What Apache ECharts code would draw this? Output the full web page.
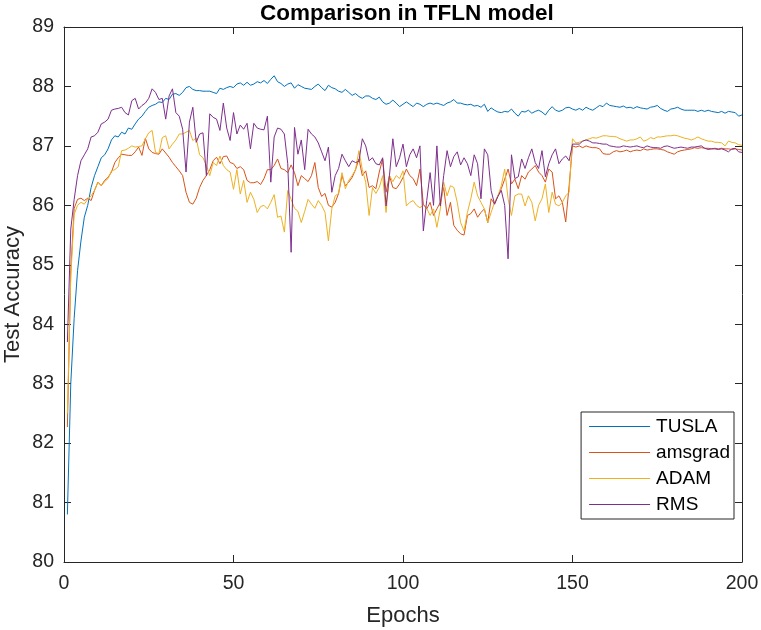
<!DOCTYPE html>
<html>
<head>
<meta charset="utf-8">
<script src="https://cdn.jsdelivr.net/npm/echarts@6/dist/echarts.min.js"></script>
<style>
html,body{margin:0;padding:0;background:#fff;}
#chart{width:761px;height:630px;}
</style>
</head>
<body>
<div id="chart"></div>
<script>
const seriesNames = ['TUSLA', 'amsgrad', 'ADAM', 'RMS'];
const xTicks = [0, 50, 100, 150, 200];
const yTicks = [80, 81, 82, 83, 84, 85, 86, 87, 88, 89];

const tusla = [
80.8,83.0,84.1,84.9,85.4,85.8,86.0,86.3,86.5,86.65,
86.8,86.85,86.95,87.1,87.17,87.15,87.23,87.2,87.3,87.28,
87.37,87.45,87.5,87.58,87.65,87.68,87.7,87.74,87.73,87.8,
87.78,87.87,87.88,87.85,87.9,87.98,88.0,87.95,87.93,87.93,
87.92,87.92,87.92,87.9,87.88,87.97,87.95,87.98,88.0,87.98,
88.04,88.06,88.02,88.07,88.02,88.04,88.08,88.06,88.1,88.05,
88.12,88.18,88.08,88.05,88.0,88.04,88.06,87.97,88.03,88.0,
87.97,87.96,87.95,88.0,88.04,87.98,87.93,88.02,87.98,87.96,
87.92,87.9,87.95,87.9,87.85,87.88,87.83,87.8,87.84,87.84,
87.8,87.78,87.82,87.74,87.7,87.72,87.77,87.72,87.66,87.7,
87.74,87.7,87.66,87.72,87.7,87.66,87.7,87.72,87.7,87.72,
87.7,87.68,87.72,87.74,87.78,87.72,87.72,87.7,87.69,87.7,
87.67,87.68,87.65,87.7,87.58,87.64,87.6,87.57,87.56,87.58,
87.57,87.62,87.55,87.5,87.58,87.57,87.6,87.55,87.58,87.6,
87.57,87.52,87.6,87.66,87.6,87.58,87.6,87.64,87.65,87.62,
87.6,87.63,87.6,87.65,87.62,87.6,87.64,87.68,87.66,87.72,
87.68,87.67,87.66,87.65,87.67,87.64,87.65,87.63,87.66,87.64,
87.63,87.62,87.65,87.66,87.68,87.63,87.6,87.58,87.62,87.63,
87.65,87.62,87.6,87.6,87.6,87.6,87.58,87.6,87.58,87.6,
87.58,87.57,87.56,87.58,87.55,87.58,87.57,87.56,87.5,87.52
];

const amsgrad = [
82.27,84.9,85.95,86.1,86.12,86.08,86.12,86.08,86.25,86.39,
86.33,86.42,86.47,86.56,86.72,86.8,86.86,86.85,86.84,86.84,
86.9,86.98,86.84,87.13,86.95,86.89,86.87,86.86,86.95,86.88,
86.81,86.72,86.65,86.58,86.5,86.22,86.05,86.02,86.12,86.3,
86.42,86.5,86.6,86.75,86.81,86.7,86.82,86.83,86.72,86.7,
86.62,86.65,86.6,86.42,86.38,86.38,86.4,86.35,86.45,86.6,
86.6,86.67,86.78,86.62,86.6,86.55,86.68,86.55,86.33,86.5,
86.45,86.4,86.5,86.72,86.3,86.15,86.2,86.0,85.97,86.05,
86.2,86.5,86.33,86.39,86.47,86.6,86.78,86.5,86.58,86.3,
86.33,86.28,86.56,86.78,86.22,86.5,86.3,86.28,86.36,86.47,
86.61,86.5,86.45,86.33,86.61,86.02,85.94,86.05,85.83,85.94,
86.05,86.3,85.83,86.05,85.66,85.58,85.52,85.5,85.83,85.86,
85.94,85.8,85.88,85.94,85.71,86.11,86.02,86.16,86.28,86.44,
86.61,86.36,86.44,86.28,86.5,86.44,86.56,86.61,86.67,86.56,
86.5,86.39,86.61,86.56,86.11,86.16,86.05,85.72,86.33,87.0,
86.98,87.0,86.97,87.0,86.98,86.97,86.97,86.95,86.87,86.86,
86.86,86.9,86.92,86.9,86.91,86.93,86.9,86.92,86.93,86.92,
86.95,86.93,86.94,86.95,86.95,86.94,86.93,86.9,86.88,86.86,
86.9,86.92,86.93,86.94,86.95,86.97,86.96,86.97,86.96,86.96,
86.95,86.96,86.95,86.96,86.95,86.95,86.94,86.95,86.94,86.93
];

const adam = [
82.5,84.8,85.85,86.0,86.05,86.02,86.1,86.16,86.25,86.39,
86.33,86.4,86.45,86.58,86.6,86.65,86.92,86.93,86.96,87.0,
86.98,86.99,87.0,87.12,87.22,87.26,86.89,86.87,87.14,87.17,
86.95,87.03,87.1,87.2,87.2,87.23,87.26,87.09,87.13,86.85,
86.8,86.67,86.5,86.72,86.67,86.83,86.67,86.6,86.56,86.27,
86.6,86.19,86.42,86.05,86.22,86.1,85.88,85.98,86.0,85.94,
86.05,86.18,85.8,85.82,85.55,86.25,86.1,85.95,85.9,85.71,
85.9,86.1,86.02,85.95,86.08,86.0,85.88,85.4,85.94,86.16,
86.2,86.55,86.28,86.42,86.5,86.6,86.92,86.6,86.39,85.83,
86.3,86.2,86.3,86.5,85.88,86.5,86.4,86.5,86.45,86.58,
85.99,86.05,86.08,86.0,85.96,86.0,85.95,85.83,85.94,85.63,
85.94,86.39,86.16,86.33,86.3,86.05,85.71,85.57,85.88,86.11,
86.39,86.16,86.05,85.94,85.71,85.88,86.05,86.16,86.33,86.61,
86.11,85.83,86.16,86.19,86.19,85.99,86.16,86.05,85.74,86.0,
86.11,86.36,85.88,86.22,86.02,85.99,86.05,86.16,86.22,87.12,
87.05,87.06,87.08,87.1,87.12,87.14,87.13,87.15,87.17,87.17,
87.16,87.16,87.15,87.12,87.1,87.08,87.1,87.1,87.12,87.15,
87.08,87.1,87.14,87.12,87.15,87.15,87.16,87.17,87.17,87.18,
87.17,87.15,87.13,87.12,87.1,87.12,87.15,87.12,87.1,87.08,
87.08,87.06,87.06,87.05,87.0,87.08,87.06,87.05,87.02,87.01
];

const rms = [
83.7,85.6,86.1,86.5,86.75,86.85,86.95,87.15,87.17,87.23,
87.37,87.4,87.45,87.6,87.62,87.63,87.65,87.56,87.52,87.76,
87.8,87.62,87.68,87.72,87.8,87.96,87.9,87.78,87.8,87.45,
87.84,87.96,87.56,87.5,87.28,86.56,87.4,87.65,87.06,87.2,
87.22,86.5,87.54,87.48,87.45,87.26,87.72,87.3,87.09,87.56,
87.2,87.35,87.28,87.38,86.95,87.38,87.3,87.28,87.27,87.5,
86.39,87.15,87.3,87.28,87.2,86.7,85.21,87.31,86.86,87.1,
86.6,87.28,87.2,87.15,87.05,86.9,86.75,86.98,86.22,86.5,
86.62,86.86,86.75,86.65,86.75,86.72,86.74,87.12,87.0,86.75,
86.8,86.7,86.68,86.8,85.99,86.5,87.12,86.65,86.8,87.03,
86.65,86.85,86.95,86.8,87.0,85.57,86.08,86.55,86.0,87.0,
85.99,86.5,86.92,86.65,86.82,86.9,86.68,86.8,86.7,86.5,
86.85,86.7,86.11,86.95,86.85,86.25,86.02,86.15,86.25,86.0,
85.1,86.85,86.45,86.48,86.78,86.62,86.8,86.95,86.72,86.62,
86.92,86.48,86.7,86.85,86.95,86.7,86.78,86.83,86.75,87.03,
87.03,87.03,87.08,87.1,87.08,87.05,87.05,87.04,87.03,87.03,
87.0,86.99,86.98,86.98,87.0,86.99,86.98,86.99,87.0,86.98,
86.97,87.0,86.98,86.97,86.97,86.96,86.99,87.0,86.98,86.96,
86.97,86.98,86.97,86.96,86.98,86.98,86.99,87.0,86.96,86.94,
86.95,86.95,86.94,86.95,86.93,86.9,86.95,86.96,86.9,86.89
];

const seriesValues = [tusla, amsgrad, adam, rms];
const colors = ['#0072BD', '#D95319', '#EDB120', '#7E2F8E'];
const FONT = '"Liberation Sans", Arial, Helvetica, sans-serif';
const AXIS_COLOR = '#262626';

const chart = echarts.init(document.getElementById('chart'), null, {renderer: 'canvas'});

function axisCommon(min, max, interval) {
  return {
    type: 'value', min: min, max: max, interval: interval,
    axisLine: {show: true, onZero: false, lineStyle: {color: AXIS_COLOR, width: 1}},
    axisTick: {show: true, inside: true, length: 7, lineStyle: {color: AXIS_COLOR, width: 1}},
    splitLine: {show: false},
    axisLabel: {show: false}
  };
}

const xMain = Object.assign(axisCommon(xTicks[0], xTicks[xTicks.length - 1], xTicks[1] - xTicks[0]), {
  position: 'bottom',
  axisLabel: {show: true, color: AXIS_COLOR, fontFamily: FONT, fontSize: 19.5, margin: 12},
  name: 'Epochs', nameLocation: 'middle', nameGap: 43, nameMoveOverlap: false,
  nameTextStyle: {color: AXIS_COLOR, fontFamily: FONT, fontSize: 22}
});
const xTop = Object.assign(axisCommon(xTicks[0], xTicks[xTicks.length - 1], xTicks[1] - xTicks[0]), {position: 'top'});
const yMain = Object.assign(axisCommon(yTicks[0], yTicks[yTicks.length - 1], yTicks[1] - yTicks[0]), {
  position: 'left',
  axisLabel: {show: true, color: AXIS_COLOR, fontFamily: FONT, fontSize: 19.5, margin: 10},
  name: 'Test Accuracy', nameLocation: 'middle', nameGap: 40, nameMoveOverlap: false,
  nameTextStyle: {color: AXIS_COLOR, fontFamily: FONT, fontSize: 22}
});
const yRight = Object.assign(axisCommon(yTicks[0], yTicks[yTicks.length - 1], yTicks[1] - yTicks[0]), {position: 'right'});

const option = {
  animation: false,
  backgroundColor: '#ffffff',
  title: {
    text: 'Comparison in TFLN model',
    left: 255, top: -3,
    textStyle: {fontFamily: FONT, fontSize: 22.5, fontWeight: 'bold', color: '#000'}
  },
  grid: {left: 64, right: 19, top: 27, bottom: 68, containLabel: false, outerBoundsMode: 'none'},
  xAxis: [xMain, xTop],
  yAxis: [yMain, yRight],
  legend: {
    data: seriesNames,
    orient: 'vertical',
    right: 27, top: 412,
    icon: 'rect',
    itemWidth: 61, itemHeight: 1.2, itemGap: 7,
    padding: [5, 4, 5, 8],
    borderColor: AXIS_COLOR, borderWidth: 1,
    backgroundColor: '#ffffff',
    textStyle: {fontFamily: FONT, fontSize: 19, color: '#000', lineHeight: 18, padding: [0, 0, 0, 1]}
  },
  series: seriesNames.map((name, k) => ({
    name: name,
    type: 'line',
    xAxisIndex: 0, yAxisIndex: 0,
    symbol: 'none', showSymbol: false,
    color: colors[k],
    itemStyle: {color: colors[k]},
    lineStyle: {width: 1, color: colors[k]},
    data: seriesValues[k].map((v, i) => [i + 1, v])
  }))
};
chart.setOption(option);
</script>
</body>
</html>
